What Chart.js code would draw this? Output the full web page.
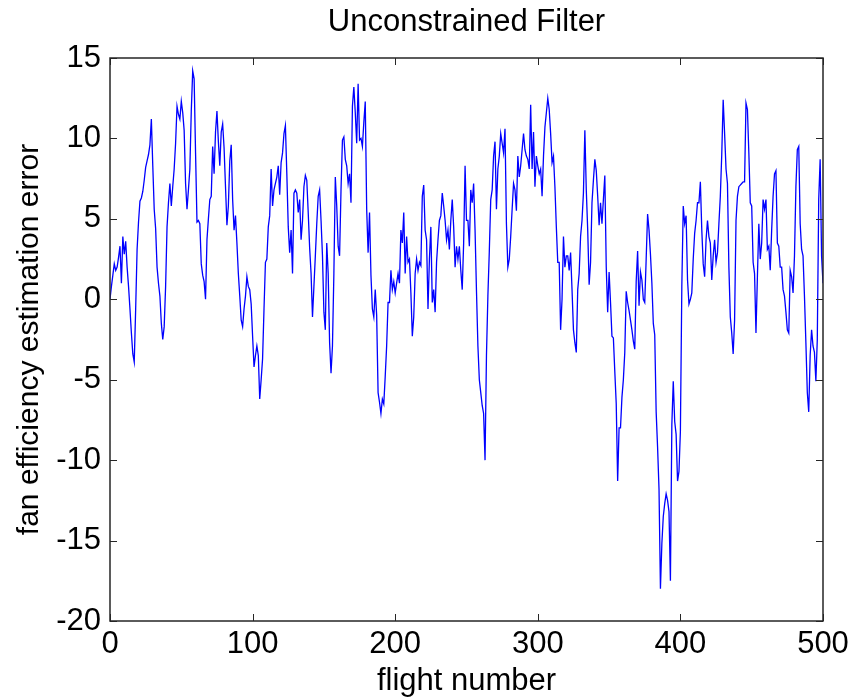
<!DOCTYPE html>
<html>
<head>
<meta charset="utf-8">
<title>Unconstrained Filter</title>
<script src="https://cdn.jsdelivr.net/npm/chart.js@4.4.1/dist/chart.umd.min.js"></script>
<style>
    html, body { margin: 0; padding: 0; background: #fff; }
    #wrap { width: 855px; height: 700px; }
</style>
</head>
<body>
<div id="wrap"><canvas id="filterChart" width="855" height="700"></canvas></div>
<script>
// values, one per flight (0..500)
const fanErrorFlights0to85 = [
    0.0, 0.8, 1.5, 2.2, 1.8, 2.0, 2.6, 3.3, 1.0, 3.9, 2.8, 3.6, 2.0, 0.8,
    -0.6, -2.1, -3.4, -3.9, -0.6, 3.1, 4.8, 6.1, 6.3, 6.7, 7.4, 8.2, 8.6, 9.0,
    9.6, 11.2, 8.3, 5.6, 4.4, 2.0, 1.0, 0.2, -1.5, -2.5, -1.7, 0.8, 4.5, 6.0,
    7.2, 5.8, 7.0, 8.1, 9.7, 12.0, 11.5, 11.2, 12.3, 11.6, 10.5, 7.2, 5.6, 6.8,
    8.1, 11.7, 14.2, 13.7, 9.1, 4.8, 4.9, 4.7, 2.2, 1.5, 1.1, 0.0, 3.7, 5.0,
    6.2, 6.4, 9.5, 7.8, 10.4, 11.7, 9.8, 8.3, 10.4, 10.9, 9.4, 7.0, 4.6, 5.8,
    8.6, 9.6
];
const fanErrorFlights86to167 = [
    6.2, 4.3, 5.2, 3.5, 1.6, 0.2, -1.3, -1.7, -0.6, 0.2,
    1.4, 0.8, 0.6, -0.3, -2.3, -4.2, -3.5, -2.9, -3.5, -6.2,
    -5.0, -3.7, -0.6, 2.3, 2.5, 4.5, 5.2, 8.1, 5.8, 6.8,
    7.2, 7.6, 8.3, 6.5, 8.5, 9.1, 10.3, 10.8, 7.8, 4.5,
    2.9, 4.3, 1.6, 6.6, 6.8, 6.6, 5.4, 6.2, 3.7, 4.9,
    7.0, 7.7, 7.4, 5.4, 3.2, 1.6, -1.1, 0.8, 2.7, 4.7,
    6.4, 6.8, 4.9, 2.7, -0.8, -1.9, 3.5, 1.6, -2.7, -4.6,
    -2.9, 1.6, 7.6, 5.8, 3.3, 2.7, 6.8, 9.9, 10.1, 8.7,
    8.3, 7.2
];
const fanErrorFlights168to252 = [
    7.8, 6.0, 12.0, 13.2, 11.6, 9.7, 13.4, 9.9, 10.0, 9.5,
    11.0, 12.3, 5.6, 2.9, 5.4, 1.5, -0.6, -1.1, 0.6, -1.0,
    -5.8, -6.4, -7.1, -6.2, -6.5, -4.8, -2.9, -0.2, -0.2, 1.8,
    0.6, 1.1, 0.4, 1.0, 1.6, 1.0, 4.3, 3.5, 5.4, 1.6,
    3.9, 2.3, 2.5, 0.4, -2.3, -1.1, 1.6, 2.5, 1.8, 2.3,
    2.1, 6.4, 7.1, 4.3, 3.7, -0.6, 2.5, 4.5, -0.2, 0.6,
    -0.8, 2.3, 3.7, 4.9, 5.2, 6.6, 5.8, 4.9, 3.7, 4.3,
    3.1, 4.9, 6.2, 4.5, 2.0, 3.3, 2.5, 3.3, 1.8, 0.6,
    3.5, 8.3, 4.9, 4.9, 3.3
];
const fanErrorFlights253to336 = [
    6.8, 6.0, 7.2, 4.3, 0.5, -2.9, -5.0, -5.8, -6.6, -7.1,
    -10.0, -3.5, 0.2, 3.0, 6.2, 6.8, 8.9, 9.8, 5.6, 8.1,
    8.9, 10.3, 9.7, 9.1, 10.6, 4.7, 2.0, 2.5, 3.9, 5.6,
    7.2, 6.8, 5.5, 8.9, 7.6, 8.3, 9.3, 10.3, 9.3, 8.9,
    8.7, 8.1, 12.1, 8.1, 10.4, 7.0, 8.9, 8.3, 7.8, 8.1,
    6.4, 8.9, 10.7, 11.6, 12.5, 11.8, 10.3, 8.5, 8.9, 7.0,
    4.5, 2.3, 2.3, -1.9, 0.0, 3.9, 2.0, 2.7, 2.7, 1.8,
    2.9, 0.6, -1.9, -2.7, -3.3, 0.6, 1.6, 3.9, 4.9, 6.6,
    10.5, 6.8, 4.3, 0.9
];
const fanErrorFlights337to420 = [
    2.3, 6.0, 7.4, 8.7, 8.0, 6.4, 4.6, 6.0, 4.7, 6.2,
    7.7, 2.0, -0.8, 1.7, -0.2, -2.3, -2.4, -4.5, -6.5, -11.3,
    -8.0, -8.0, -6.1, -5.0, -3.3, 0.5, -0.2, -0.7, -1.3, -1.9,
    -2.6, -3.1, 1.1, 3.0, -0.4, 1.7, 1.2, 0.0, -0.2, 2.5,
    5.3, 4.3, 2.8, 1.0, -1.5, -2.2, -7.0, -9.2, -11.8, -18.0,
    -15.2, -13.5, -12.7, -12.1, -12.5, -13.2, -17.5, -7.8, -5.1, -7.6,
    -8.4, -11.3, -10.7, -8.2, 0.8, 5.8, 4.7, 5.2, 1.2, -0.3,
    0.0, 0.4, 2.5, 4.1, 4.9, 6.0, 6.0, 7.3, 4.3, 2.2,
    1.4, 3.7, 4.9, 3.9
];
const fanErrorFlights421to500 = [
    3.5, 1.2, 2.7, 3.7, 2.3, 2.9, 4.7, 6.4, 9.0, 12.4,
    10.3, 8.1, 7.2, 2.0, -1.1, -2.1, -3.4, -1.3, 4.9, 6.4,
    7.0, 7.1, 7.2, 7.3, 7.3, 12.2, 11.8, 9.1, 6.0, 5.8,
    2.3, 1.6, -2.1, 1.4, 4.7, 2.5, 3.5, 6.2, 5.6, 6.2,
    3.1, 3.3, 1.8, 4.3, 6.4, 7.8, 8.0, 3.5, 3.3, 2.0,
    2.0, 0.6, 0.2, -0.8, -1.9, -2.1, 1.8, 1.4, 0.4, 2.7,
    7.0, 9.3, 9.5, 4.7, 3.1, 2.7, 0.2, -2.7, -5.8, -7.0,
    -3.5, -1.9, -2.9, -3.3, -5.1, -2.5, 6.2, 8.7, 2.7, 1.0
];

const xTickValues = [0, 100, 200, 300, 400, 500];
const yTickValues = [-20, -15, -10, -5, 0, 5, 10, 15];

const chartTitle = 'Unconstrained Filter';
const xAxisLabel = 'flight number';
const yAxisLabel = 'fan efficiency estimation error';

(function () {
    const canvas = document.getElementById('filterChart');
    const fontFamily = "'Liberation Sans', Arial, Helvetica, sans-serif";

    const fanError = [].concat(
        fanErrorFlights0to85,
        fanErrorFlights86to167,
        fanErrorFlights168to252,
        fanErrorFlights253to336,
        fanErrorFlights337to420,
        fanErrorFlights421to500
    );
    const points = fanError.map((v, flight) => ({ x: flight, y: v }));

    // matlab style box with inward tick marks on all four sides
    const matlabFrame = {
        id: 'matlabFrame',
        afterDatasetsDraw(chart) {
            const { ctx, chartArea: a, scales } = chart;
            const tickLen = 7;
            ctx.save();
            ctx.strokeStyle = '#262626';
            ctx.lineWidth = 1;
            ctx.beginPath();
            xTickValues.forEach(v => {
                const px = Math.round(scales.x.getPixelForValue(v)) + 0.5;
                ctx.moveTo(px, a.bottom);
                ctx.lineTo(px, a.bottom - tickLen);
                ctx.moveTo(px, a.top);
                ctx.lineTo(px, a.top + tickLen);
            });
            yTickValues.forEach(v => {
                const py = Math.round(scales.y.getPixelForValue(v)) + 0.5;
                ctx.moveTo(a.left, py);
                ctx.lineTo(a.left + tickLen, py);
                ctx.moveTo(a.right, py);
                ctx.lineTo(a.right - tickLen, py);
            });
            ctx.stroke();
            ctx.lineWidth = 1.5;
            ctx.strokeRect(a.left, a.top, a.right - a.left, a.bottom - a.top);
            ctx.restore();
        }
    };

    new Chart(canvas, {
        type: 'line',
        data: {
            datasets: [{
                label: yAxisLabel,
                data: points,
                borderColor: '#0000ff',
                borderWidth: 1.3,
                pointRadius: 0,
                tension: 0,
                fill: false
            }]
        },
        options: {
            responsive: false,
            animation: false,
            layout: { padding: { left: 0, right: 32, top: 0, bottom: 0 } },
            plugins: {
                legend: { display: false },
                tooltip: { enabled: false },
                title: {
                    display: true,
                    fullSize: false,
                    text: chartTitle,
                    color: '#000',
                    font: { family: fontFamily, size: 31, weight: 'normal' },
                    padding: { top: 4, bottom: 16.8 }
                }
            },
            scales: {
                x: {
                    type: 'linear',
                    min: 0,
                    max: 500,
                    afterBuildTicks: scale => { scale.ticks = xTickValues.map(v => ({ value: v })); },
                    afterFit: scale => { scale.height = 79; },
                    grid: { display: false, drawTicks: false },
                    border: { display: false },
                    ticks: {
                        color: '#000',
                        padding: 5,
                        maxRotation: 0,
                        font: { family: fontFamily, size: 31 }
                    },
                    title: {
                        display: true,
                        text: xAxisLabel,
                        color: '#000',
                        font: { family: fontFamily, size: 31 },
                        padding: { top: 0, bottom: 0 }
                    }
                },
                y: {
                    min: -20,
                    max: 15,
                    afterBuildTicks: scale => { scale.ticks = yTickValues.map(v => ({ value: v })); },
                    afterFit: scale => { scale.width = 110; },
                    grid: { display: false, drawTicks: false },
                    border: { display: false },
                    ticks: {
                        color: '#000',
                        padding: 9,
                        font: { family: fontFamily, size: 31 }
                    },
                    title: {
                        display: true,
                        text: yAxisLabel,
                        color: '#000',
                        font: { family: fontFamily, size: 30 },
                        padding: { top: 12, bottom: 0 }
                    }
                }
            }
        },
        plugins: [matlabFrame]
    });
})();
</script>
</body>
</html>
